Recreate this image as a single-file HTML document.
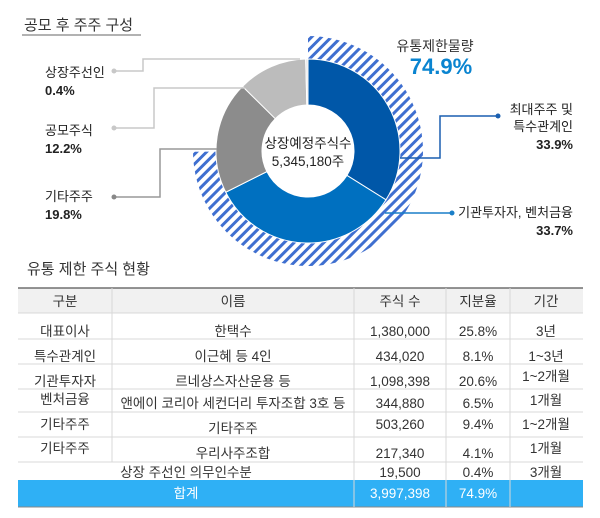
<!DOCTYPE html>
<html><head><meta charset="utf-8"><style>
body{margin:0;background:#fff;font-family:"Liberation Sans","Noto Sans CJK KR",sans-serif;}
svg text{font-family:"Liberation Sans","Noto Sans CJK KR",sans-serif;}
</style></head><body>
<svg width="600" height="513" viewBox="0 0 600 513">
<defs>
<pattern id="hatch" patternUnits="userSpaceOnUse" width="7" height="7" patternTransform="rotate(45)">
<rect width="7" height="7" fill="#fff"/><rect width="3" height="7" fill="#3f6fd0"/></pattern>
</defs>
<text x="24" y="30" font-size="15" fill="#333">공모 후 주주 구성</text>
<line x1="22" y1="35" x2="141" y2="35" stroke="#666" stroke-width="1"/>
<g id="donut"></g>
<text x="308" y="148" font-size="13.5" text-anchor="middle" fill="#222">상장예정주식수</text>
<text x="308" y="166" font-size="13.5" text-anchor="middle" fill="#222">5,345,180주</text>
<text x="435" y="51" font-size="14" text-anchor="middle" fill="#333">유통제한물량</text>
<text x="441" y="74" font-size="22" font-weight="bold" text-anchor="middle" fill="#0a84d0">74.9%</text>
<g fill="none" stroke-width="1.5">
<polyline points="116,71 143,71 143,59 300,59" stroke="#c8c8c8"/>
<polyline points="116,128 154,128 154,88 245,88" stroke="#c8c8c8"/>
<polyline points="116,197 160,197 160,149 217,149" stroke="#999"/>
<polyline points="498,116 440,116 440,158 400,158" stroke="#1a5fb0"/>
<polyline points="452,213 385,213" stroke="#1a7fc8"/>
</g>
<circle cx="114" cy="71" r="2.5" fill="#c8c8c8"/><circle cx="114" cy="128" r="2.5" fill="#c8c8c8"/>
<circle cx="114" cy="197" r="2.5" fill="#888"/><circle cx="498" cy="116" r="2.5" fill="#1a5fb0"/>
<circle cx="452" cy="213" r="2.5" fill="#1a7fc8"/>
<g font-size="13" fill="#222">
<text x="45" y="77">상장주선인</text><text x="45" y="95" font-weight="bold">0.4%</text>
<text x="45" y="135">공모주식</text><text x="45" y="153" font-weight="bold">12.2%</text>
<text x="45" y="201">기타주주</text><text x="45" y="219" font-weight="bold">19.8%</text>
</g>
<g font-size="13" fill="#222" text-anchor="end">
<text x="573" y="114">최대주주 및</text><text x="573" y="131">특수관계인</text><text x="573" y="149" font-weight="bold">33.9%</text>
<text x="573" y="217">기관투자자, 벤처금융</text><text x="573" y="235" font-weight="bold">33.7%</text>
</g>
<text x="27" y="274" font-size="15" fill="#333">유통 제한 주식 현황</text>
<g>
<rect x="18" y="288" width="565" height="25" fill="#f1f1f1"/>
<line x1="18" y1="288" x2="583" y2="288" stroke="#555" stroke-width="1.2"/>
<rect x="18" y="480" width="565" height="27" fill="#2fb0f5"/>
<line x1="18" y1="507" x2="583" y2="507" stroke="#888" stroke-width="1"/>
<g stroke="#d8d8d8" stroke-width="1">
<line x1="18" y1="313" x2="583" y2="313"/><line x1="18" y1="339" x2="583" y2="339"/>
<line x1="18" y1="364" x2="583" y2="364"/><line x1="18" y1="389" x2="583" y2="389"/>
<line x1="18" y1="412" x2="583" y2="412"/><line x1="18" y1="437" x2="583" y2="437"/>
<line x1="18" y1="462" x2="583" y2="462"/>
<line x1="112" y1="288" x2="112" y2="462"/>
<line x1="354" y1="288" x2="354" y2="507"/><line x1="446" y1="288" x2="446" y2="507"/><line x1="510" y1="288" x2="510" y2="507"/>
</g>
<g font-size="13.5" fill="#333" text-anchor="middle">
<text x="65" y="306">구분</text><text x="233" y="306">이름</text><text x="400" y="306">주식 수</text><text x="478" y="306">지분율</text><text x="546" y="306">기간</text>
<text x="65" y="336">대표이사</text><text x="233" y="336">한택수</text><text x="400" y="336">1,380,000</text><text x="478" y="336">25.8%</text><text x="546" y="336">3년</text>
<text x="65" y="361">특수관계인</text><text x="233" y="361">이근혜 등 4인</text><text x="400" y="361">434,020</text><text x="478" y="361">8.1%</text><text x="546" y="361">1~3년</text>
<text x="65" y="386">기관투자자</text><text x="233" y="386">르네상스자산운용 등</text><text x="400" y="386">1,098,398</text><text x="478" y="386">20.6%</text><text x="546" y="381">1~2개월</text>
<text x="65" y="404">벤처금융</text><text x="233" y="408">앤에이 코리아 세컨더리 투자조합 3호 등</text><text x="400" y="408">344,880</text><text x="478" y="408">6.5%</text><text x="546" y="405">1개월</text>
<text x="65" y="429">기타주주</text><text x="233" y="433">기타주주</text><text x="400" y="429">503,260</text><text x="478" y="429">9.4%</text><text x="546" y="429">1~2개월</text>
<text x="65" y="453">기타주주</text><text x="233" y="458">우리사주조합</text><text x="400" y="458">217,340</text><text x="478" y="458">4.1%</text><text x="546" y="453">1개월</text>
<text x="186" y="477">상장 주선인 의무인수분</text><text x="400" y="477">19,500</text><text x="478" y="477">0.4%</text><text x="546" y="477">3개월</text>
</g>
<g font-size="13.5" fill="#fff" text-anchor="middle">
<text x="186" y="498">합계</text><text x="400" y="498">3,997,398</text><text x="478" y="498">74.9%</text>
</g>
</g>
</svg>
<script>
const categories=['최대주주 및 특수관계인','기관투자자, 벤처금융','기타주주','공모주식','상장주선인'];
const shares=[33.9,33.7,19.8,12.2,0.4];
const colors=['#0057a8','#0070c0','#8c8c8c','#bcbcbc','#e6e6e6'];
const lockupShare=[74.9];
const cx=308,cy=151,ro=92,ri=46;
const g=document.getElementById('donut');
const ns='http://www.w3.org/2000/svg';
function pt(a,r){return [cx+r*Math.sin(a),cy-r*Math.cos(a)];}
function arc(a0,a1,r0,r1){const p0=pt(a0,r1),p1=pt(a1,r1),p2=pt(a1,r0),p3=pt(a0,r0);const l=(a1-a0)>Math.PI?1:0;
return `M${p0} A${r1},${r1} 0 ${l} 1 ${p1} L${p2} A${r0},${r0} 0 ${l} 0 ${p3}Z`;}
const total=shares.reduce((a,b)=>a+b,0);
const hatch=document.createElementNS(ns,'path');
hatch.setAttribute('d',arc(0,lockupShare[0]/100*2*Math.PI,80,115));
hatch.setAttribute('fill','url(#hatch)');


g.appendChild(hatch);
let a=0;
shares.forEach((v,i)=>{const a1=a+v/total*2*Math.PI;
const p=document.createElementNS(ns,'path');
p.setAttribute('d',arc(a,a1,ri,ro));p.setAttribute('fill',colors[i]);p.setAttribute('stroke','#fff');p.setAttribute('stroke-width','1');


g.appendChild(p);a=a1;});
</script>
</body></html>
